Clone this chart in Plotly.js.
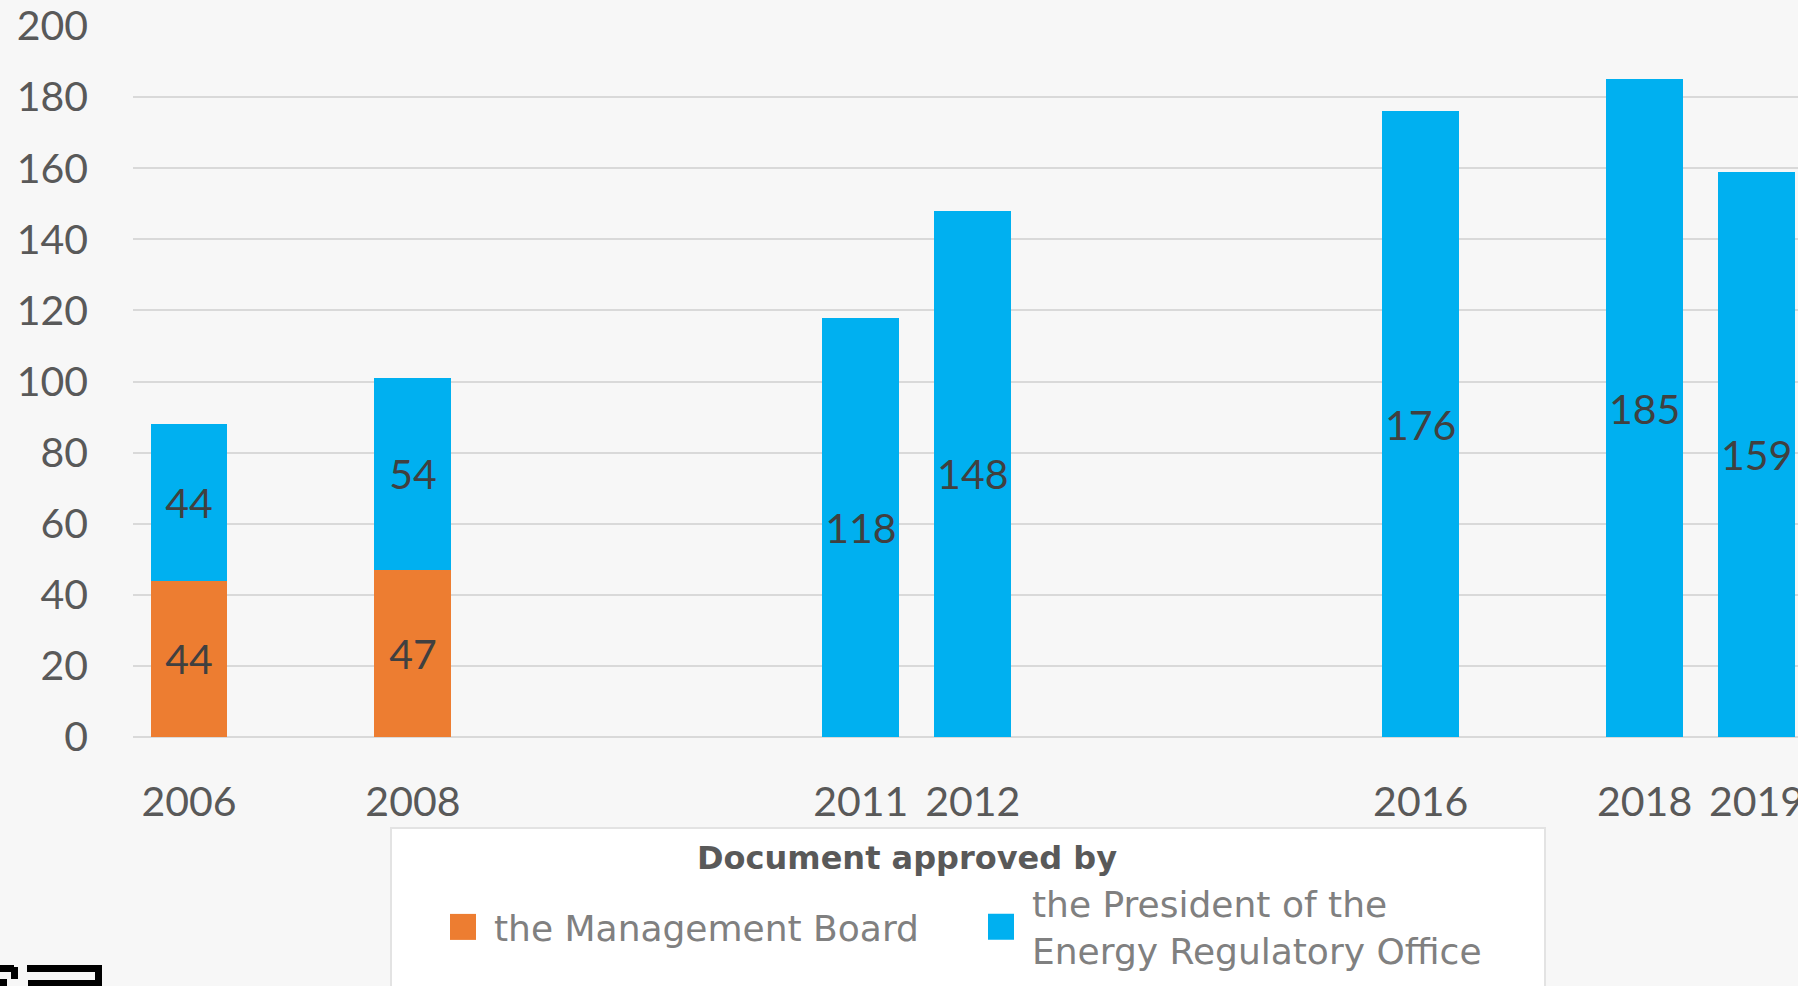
<!DOCTYPE html>
<html>
<head>
<meta charset="utf-8">
<script src="https://cdn.plot.ly/plotly-3.0.1.min.js"></script>
<style>
  html, body { margin: 0; padding: 0; background: #F7F7F7; overflow: hidden; }
  #chart { width: 1798px; height: 986px; }
</style>
</head>
<body>
<div id="chart"></div>
<script>
// ---- data ----
const years = ['2006', '2008', '2011', '2012', '2016', '2018', '2019'];
const managementBoard = [44, 47, null, null, null, null, null];
const presidentURE = [44, 54, 118, 148, 176, 185, 159];
// category slots of the original axis (empty spacer slots between years)
const axisSlots = ['2006', 's1', '2008', 's2', 's3', 's4', '2011', '2012', 's5', 's6', 's7', '2016', 's8', '2018', '2019'];
const seriesNames = ['the Management Board', 'the President of the<br>Energy Regulatory Office'];
const legendTitle = 'Document approved by';
const yTicks = [0, 20, 40, 60, 80, 100, 120, 140, 160, 180, 200];

// ---- layout helpers (pixel -> paper) ----
const W = 1798, H = 986;
const M = { l: 133, r: 0, t: 26, b: 249 };
const PW = W - M.l - M.r, PH = H - M.t - M.b;
const px = x => (x - M.l) / PW;
const py = y => (H - M.b - y) / PH;

const tickFont = { family: 'Lato, Carlito, "Open Sans", sans-serif', size: 41, color: '#595959' };
const labelFont = { family: 'Lato, Carlito, "Open Sans", sans-serif', size: 41, color: '#404040' };
const legendFont = { family: '"DejaVu Sans", sans-serif', size: 36, color: '#808080' };

const traces = [
  {
    type: 'bar', name: seriesNames[0], x: years, y: managementBoard, legend: 'legend',
    marker: { color: '#ED7D31' },
    texttemplate: '%{y}', textposition: 'inside', insidetextanchor: 'middle',
    constraintext: 'none', textangle: 0, textfont: labelFont,
    hoverinfo: 'skip'
  },
  {
    type: 'bar', name: seriesNames[1], x: years, y: presidentURE, legend: 'legend2',
    marker: { color: '#00B0F0' },
    texttemplate: '%{y}', textposition: 'inside', insidetextanchor: 'middle',
    constraintext: 'none', textangle: 0, textfont: labelFont,
    hoverinfo: 'skip'
  }
];

function rectShape(x0, y0, x1, y1, fill, line) {
  return { type: 'rect', xref: 'paper', yref: 'paper', x0: px(x0), x1: px(x1), y0: py(y0), y1: py(y1),
           fillcolor: fill, line: line || { width: 0 }, layer: 'above' };
}
const shapes = [
  // legend box
  rectShape(391, 828, 1545, 995, '#FFFFFF', { color: '#E3E3E3', width: 2 }),
  // small cropped logo fragment in the bottom-left corner
  rectShape(0, 965, 14, 972, '#000000'), rectShape(11, 967, 18, 979, '#000000'), rectShape(0, 979, 7, 986, '#000000'),
  rectShape(27, 965, 102, 972, '#000000'), rectShape(95, 965, 102, 986, '#000000'), rectShape(28, 980, 95, 986, '#000000')
];

const legendCommon = {
  orientation: 'v', yanchor: 'middle', xanchor: 'left',
  bgcolor: 'rgba(0,0,0,0)', borderwidth: 0, font: legendFont,
  itemwidth: 52, valign: 'middle', itemclick: false, itemdoubleclick: false
};

const layout = {
  width: W, height: H,
  margin: { l: M.l, r: M.r, t: M.t, b: M.b, autoexpand: false },
  paper_bgcolor: '#F7F7F7', plot_bgcolor: '#F7F7F7',
  barmode: 'stack', bargap: 0.3125,
  showlegend: true,
  xaxis: {
    type: 'category', categoryorder: 'array', categoryarray: axisSlots,
    range: [-0.5, 14.37],
    tickmode: 'array', tickvals: years, ticktext: years,
    showgrid: false, zeroline: false, showline: false, ticks: '',
    tickfont: tickFont, ticklabelstandoff: 37, automargin: false, fixedrange: true
  },
  yaxis: {
    range: [0, 200], tickmode: 'array', tickvals: yTicks,
    showgrid: true, gridcolor: '#D9D9D9', gridwidth: 2,
    zeroline: true, zerolinecolor: '#D9D9D9', zerolinewidth: 2,
    showline: false, ticks: '',
    tickfont: tickFont, ticklabelstandoff: 44, automargin: false, fixedrange: true
  },
  legend: Object.assign({}, legendCommon, { x: px(432), y: py(927) }),
  legend2: Object.assign({}, legendCommon, { x: px(970), y: py(927) }),
  annotations: [{
    text: '<b>' + legendTitle + '</b>', xref: 'paper', yref: 'paper',
    x: px(907), y: py(858), xanchor: 'center', yanchor: 'middle', showarrow: false,
    font: { family: '"DejaVu Sans", sans-serif', size: 32, color: '#595959' }
  }],
  shapes: shapes,
  hovermode: false
};

// enlarge the legend colour swatches to match the reference's square markers
function enlargeSwatches() {
  document.querySelectorAll('#chart g.legendpoints path').forEach(function (p) {
    p.setAttribute('d', 'M13,13H-13V-13H13Z');
  });
}

Plotly.newPlot('chart', traces, layout, { displayModeBar: false, staticPlot: true }).then(function (gd) {
  enlargeSwatches();
  gd.on('plotly_afterplot', enlargeSwatches);
  setTimeout(enlargeSwatches, 30);
  setTimeout(enlargeSwatches, 200);
});
</script>
</body>
</html>
